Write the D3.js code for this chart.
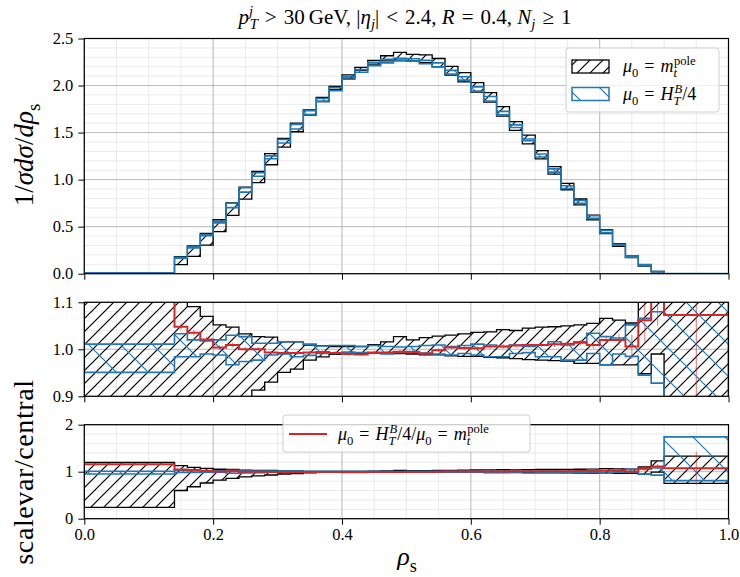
<!DOCTYPE html>
<html>
<head>
<meta charset="utf-8">
<script src="https://cdn.jsdelivr.net/npm/d3@7"></script>
<style>
  body { margin: 0; background: #fff; }
  svg { display: block; }
  text { font-family: "Liberation Serif", "DejaVu Serif", serif; fill: #000; }
</style>
</head>
<body>
<svg width="740" height="577"></svg>
<script>
// bin edges of rho_s (one wide first bin, 0.02 bins, one wide last bin)
const binEdges = [0, 0.14, 0.16, 0.18, 0.20, 0.22, 0.24, 0.26, 0.28, 0.30, 0.32, 0.34, 0.36, 0.38,
  0.40, 0.42, 0.44, 0.46, 0.48, 0.50, 0.52, 0.54, 0.56, 0.58, 0.60, 0.62, 0.64, 0.66, 0.68, 0.70,
  0.72, 0.74, 0.76, 0.78, 0.80, 0.82, 0.84, 0.86, 0.88, 0.90, 1.0];

// central value, mu0 = mt pole
const centralMt = [0.008, 0.160, 0.270, 0.400, 0.545, 0.720, 0.890, 1.060, 1.245, 1.415, 1.575,
  1.725, 1.860, 1.980, 2.100, 2.180, 2.245, 2.280, 2.290, 2.285, 2.270, 2.225, 2.140, 2.070,
  1.960, 1.855, 1.705, 1.555, 1.410, 1.250, 1.085, 0.915, 0.755, 0.590, 0.440, 0.300, 0.178,
  0.085, 0.020, 0.0005];

// scale variation envelope / central, mu0 = mt pole
const mtUp = [1.20, 1.13, 1.091, 1.070, 1.052, 1.047, 1.033, 1.027, 1.026, 1.016, 1.016, 1.009,
  1.008, 1.006, 1.006, 1.006, 1.010, 1.016, 1.027, 1.020, 1.025, 1.028, 1.030, 1.033, 1.036,
  1.037, 1.042, 1.040, 1.045, 1.047, 1.048, 1.050, 1.052, 1.055, 1.066, 1.062, 1.056, 1.10,
  1.23, 1.33];
const mtDown = [0.24, 0.60, 0.68, 0.76, 0.82, 0.86, 0.89, 0.913, 0.930, 0.951, 0.958, 0.977,
  0.984, 0.989, 0.990, 0.991, 0.992, 0.992, 0.991, 0.990, 0.988, 0.988, 0.986, 0.985, 0.985,
  0.983, 0.982, 0.980, 0.978, 0.977, 0.976, 0.975, 0.970, 0.970, 0.967, 0.967, 0.967, 0.948,
  0.99, 0.75];

// scale variation envelope / central, mu0 = HT/4
const htUp = [1.011, 1.033, 1.020, 1.018, 1.020, 1.030, 1.027, 1.013, 1.013, 1.016, 1.016, 1.011,
  1.007, 1.008, 1.008, 1.006, 1.008, 1.006, 1.005, 1.006, 1.008, 1.009, 1.006, 1.008, 1.011,
  1.009, 1.006, 1.009, 1.006, 1.009, 1.016, 1.009, 1.016, 1.034, 1.027, 1.024, 1.052, 1.066,
  1.08, 1.74];
const htDown = [0.951, 0.984, 0.984, 0.990, 0.988, 0.967, 0.974, 0.977, 0.988, 0.990, 0.984,
  0.987, 0.991, 0.991, 0.994, 0.993, 0.992, 0.990, 0.993, 0.995, 0.992, 0.990, 0.988, 0.991,
  0.988, 0.984, 0.984, 0.991, 0.993, 0.984, 0.984, 0.977, 0.977, 0.991, 0.967, 0.990, 0.985,
  0.945, 0.928, 0.81];

// central HT/4 over central mt pole, with its statistical error
const ratioHt = [1.16, 1.048, 1.035, 1.021, 1.004, 1.009, 1.000, 1.000, 0.993, 0.992, 0.992,
  0.993, 0.994, 0.992, 0.990, 0.989, 0.993, 0.993, 0.995, 0.994, 0.991, 0.998, 1.004, 1.003,
  1.002, 1.006, 1.006, 1.008, 1.009, 1.009, 1.011, 1.012, 1.014, 1.009, 1.020, 1.020, 1.006,
  1.062, 1.11, 1.073];
const ratioErr = [0.01, 0.007, 0.006, 0.006, 0.005, 0.005, 0.005, 0.005, 0.004, 0.004, 0.004,
  0.004, 0.004, 0.004, 0.004, 0.004, 0.004, 0.004, 0.004, 0.004, 0.004, 0.004, 0.004, 0.005,
  0.005, 0.005, 0.005, 0.005, 0.005, 0.005, 0.006, 0.006, 0.006, 0.007, 0.009, 0.012, 0.025,
  0.05, 0.06, 0.35];

const xTicks = [0, 0.2, 0.4, 0.6, 0.8, 1.0];
const topYTicks = [0, 0.5, 1.0, 1.5, 2.0, 2.5];
const midYTicks = [0.9, 1.0, 1.1];
const botYTicks = [0, 1, 2];

const black = "#000", blue = "#1f77b4", red = "#d62728";
const sp = "\u2004"; // slightly wider space around relations, like TeX

const svg = d3.select("svg");
const defs = svg.append("defs");

const x = d3.scaleLinear().domain([0, 1]).range([84.3, 728.5]);

// hatch patterns (pixel space, like matplotlib)
function hatch(id, color, step, dir) {
  const p = defs.append("pattern").attr("id", id)
    .attr("patternUnits", "userSpaceOnUse")
    .attr("width", step).attr("height", step);
  const s = step, h = step / 2;
  const d = dir === "/"
    ? `M0,${s}L${s},0M${-h},${h}L${h},${-h}M${h},${s + h}L${s + h},${h}`
    : `M0,0L${s},${s}M${-h},${h}L${h},${s + h}M${h},${-h}L${s + h},${h}`;
  p.append("path").attr("d", d).attr("stroke", color).attr("stroke-width", 1.2).attr("fill", "none");
}
hatch("hBlack", black, 13, "/");
hatch("hBlue", blue, 32, "\\");

// small math-text helper: parts = [text, style, dx]  style: i italic, b sub, p sup
function mtext(g, px, py, parts, size, anchor) {
  const t = g.append("text").attr("x", px).attr("y", py)
    .attr("font-size", size).attr("text-anchor", anchor || "start");
  let cur = 0;
  parts.forEach(([str, st, dx]) => {
    const ts = t.append("tspan").text(str);
    let target = 0, fs = size;
    if (st.includes("b")) { target = size * 0.25; fs = size * 0.7; }
    if (st.includes("p")) { target = -size * 0.38; fs = size * 0.7; }
    ts.attr("dy", target - cur).attr("font-size", fs);
    cur = target;
    if (st.includes("i")) ts.attr("font-style", "italic");
    if (dx) ts.attr("dx", dx);
  });
  return t;
}

function steps(lo, hi) {
  const pts = [];
  lo.forEach((l, i) => {
    pts.push({ x: binEdges[i], lo: l, hi: hi[i] });
    pts.push({ x: binEdges[i + 1], lo: l, hi: hi[i] });
  });
  return pts;
}

const panels = [
  { id: "top", y: d3.scaleLinear().domain([0, 2.5]).range([273.7, 38.5]), ticks: topYTicks, minor: 25, fmt: d3.format(".1f") },
  { id: "mid", y: d3.scaleLinear().domain([0.9, 1.1]).range([396.3, 302.3]), ticks: midYTicks, minor: 10, fmt: d3.format(".1f") },
  { id: "bot", y: d3.scaleLinear().domain([0, 2]).range([518.7, 424.7]), ticks: botYTicks, minor: 10, fmt: d3.format("d") }
];

panels.forEach(p => {
  const y = p.y;
  const [yb, yt] = y.range();
  const g = svg.append("g");
  defs.append("clipPath").attr("id", "clip-" + p.id)
    .append("rect").attr("x", x(0)).attr("y", yt).attr("width", x(1) - x(0)).attr("height", yb - yt);

  // grid
  const grid = g.append("g");
  grid.selectAll(".gxm").data(x.ticks(20)).enter().append("line")
    .attr("x1", d => x(d)).attr("x2", d => x(d)).attr("y1", yt).attr("y2", yb)
    .attr("stroke", "#e4e4e4").attr("stroke-width", 0.8);
  grid.selectAll(".gym").data(y.ticks(p.minor)).enter().append("line")
    .attr("y1", d => y(d)).attr("y2", d => y(d)).attr("x1", x(0)).attr("x2", x(1))
    .attr("stroke", "#e4e4e4").attr("stroke-width", 0.8);
  grid.selectAll(".gx").data(xTicks).enter().append("line")
    .attr("x1", d => x(d)).attr("x2", d => x(d)).attr("y1", yt).attr("y2", yb)
    .attr("stroke", "#b0b0b0").attr("stroke-width", 0.8);
  grid.selectAll(".gy").data(p.ticks).enter().append("line")
    .attr("y1", d => y(d)).attr("y2", d => y(d)).attr("x1", x(0)).attr("x2", x(1))
    .attr("stroke", "#b0b0b0").attr("stroke-width", 0.8);

  const plot = g.append("g").attr("clip-path", `url(#clip-${p.id})`);
  const area = d3.area().x(d => x(d.x)).y0(d => y(d.lo)).y1(d => y(d.hi));
  let blackPts, bluePts;
  if (p.id === "top") {
    blackPts = steps(centralMt.map((c, i) => c * mtDown[i]), centralMt.map((c, i) => c * mtUp[i]));
    bluePts = steps(centralMt.map((c, i) => c * ratioHt[i] * htDown[i]), centralMt.map((c, i) => c * ratioHt[i] * htUp[i]));
  } else {
    blackPts = steps(mtDown, mtUp);
    bluePts = steps(htDown, htUp);
  }
  plot.append("path").attr("d", area(blackPts))
    .attr("fill", "url(#hBlack)").attr("stroke", black).attr("stroke-width", 1.3);
  plot.append("path").attr("d", area(bluePts))
    .attr("fill", "url(#hBlue)").attr("stroke", blue).attr("stroke-width", 1.6);

  if (p.id !== "top") {
    plot.selectAll(".err").data(ratioHt).enter().append("line")
      .attr("x1", (d, i) => x((binEdges[i] + binEdges[i + 1]) / 2))
      .attr("x2", (d, i) => x((binEdges[i] + binEdges[i + 1]) / 2))
      .attr("y1", (d, i) => y(d - ratioErr[i])).attr("y2", (d, i) => y(d + ratioErr[i]))
      .attr("stroke", red).attr("stroke-width", 1).attr("stroke-opacity", 0.6);
    const line = d3.line().x(d => x(d.x)).y(d => y(d.lo));
    plot.append("path").attr("d", line(steps(ratioHt, ratioHt)))
      .attr("fill", "none").attr("stroke", red).attr("stroke-width", 2);
  }

  // frame
  g.append("rect").attr("x", x(0)).attr("y", yt).attr("width", x(1) - x(0)).attr("height", yb - yt)
    .attr("fill", "none").attr("stroke", black).attr("stroke-width", 1.2);

  // axes
  const ya = g.append("g").attr("transform", `translate(${x(0)},0)`);
  ya.call(d3.axisLeft(y).tickValues(y.ticks(p.minor)).tickSize(3).tickFormat(""));
  ya.call(d3.axisLeft(y).tickValues(p.ticks).tickSize(6).tickPadding(5).tickFormat(p.fmt));
  const xa = g.append("g").attr("transform", `translate(0,${yb})`);
  xa.call(d3.axisBottom(x).tickValues(x.ticks(20)).tickSize(3).tickFormat(""));
  xa.call(d3.axisBottom(x).tickValues(xTicks).tickSize(6).tickPadding(4)
    .tickFormat(p.id === "bot" ? d3.format(".1f") : ""));
  g.selectAll(".domain").remove();
  g.selectAll(".tick line").attr("stroke", black).attr("stroke-width", 1);
  g.selectAll(".tick text").attr("font-size", 16.5).attr("font-family", "Liberation Serif");
});

// title
mtext(svg, 405, 24, [["p", "i"], ["j", "ip"], ["T", "ib", -3.5], [sp + ">" + sp + "30\u2009GeV, |", ""], ["η", "i"],
  ["j", "ib"], ["|" + sp + "<" + sp + "2.4, ", ""], ["R", "i"], [sp + "=" + sp + "0.4, ", ""], ["N", "i"], ["j", "ib"],
  [sp + "≥" + sp + "1", ""]], 21, "middle");

// axis labels
mtext(svg.append("g").attr("transform", "translate(33,155) rotate(-90)"), 0, 0,
  [["1/", ""], ["σdσ", "i"], ["/", ""], ["dρ", "i"], ["s", "b"]], 27, "middle");
svg.append("g").attr("transform", "translate(33,472) rotate(-90)")
  .append("text").attr("text-anchor", "middle").attr("font-size", 28).attr("letter-spacing", 0.6)
  .text("scalevar/central");
mtext(svg, 407, 565, [["ρ", "i"], ["s", "b"]], 26, "middle");

// legend, top panel
const lg1 = svg.append("g");
lg1.append("rect").attr("x", 566).attr("y", 48).attr("width", 153).attr("height", 64).attr("rx", 3)
  .attr("fill", "#fff").attr("fill-opacity", 0.8).attr("stroke", "#d0d0d0");
lg1.append("rect").attr("x", 572).attr("y", 60).attr("width", 37).attr("height", 13)
  .attr("fill", "url(#hBlack)").attr("stroke", black).attr("stroke-width", 1.3);
lg1.append("rect").attr("x", 572).attr("y", 87.5).attr("width", 37).attr("height", 13)
  .attr("fill", "url(#hBlue)").attr("stroke", blue).attr("stroke-width", 1.5);
mtext(lg1, 623, 72, [["μ", "i"], ["0", "b"], [sp + "=" + sp, ""], ["m", "i"], ["t", "ib"], ["pole", "p", -3]], 18);
mtext(lg1, 623, 100, [["μ", "i"], ["0", "b"], [sp + "=" + sp, ""], ["H", "i"], ["T", "ib"], ["B", "ip", -6], ["/4", ""]], 18);

// legend, bottom panel
const lg2 = svg.append("g");
lg2.append("rect").attr("x", 283).attr("y", 415).attr("width", 247).attr("height", 37).attr("rx", 3)
  .attr("fill", "#fff").attr("fill-opacity", 0.8).attr("stroke", "#d0d0d0");
lg2.append("line").attr("x1", 289).attr("x2", 327).attr("y1", 434).attr("y2", 434)
  .attr("stroke", red).attr("stroke-width", 2);
mtext(lg2, 338, 440, [["μ", "i"], ["0", "b"], [sp + "=" + sp, ""], ["H", "i"], ["T", "ib"], ["B", "ip", -6],
  ["/4/", ""], ["μ", "i"], ["0", "b"], [sp + "=" + sp, ""], ["m", "i"], ["t", "ib"], ["pole", "p", -3]], 18);
</script>
</body>
</html>
